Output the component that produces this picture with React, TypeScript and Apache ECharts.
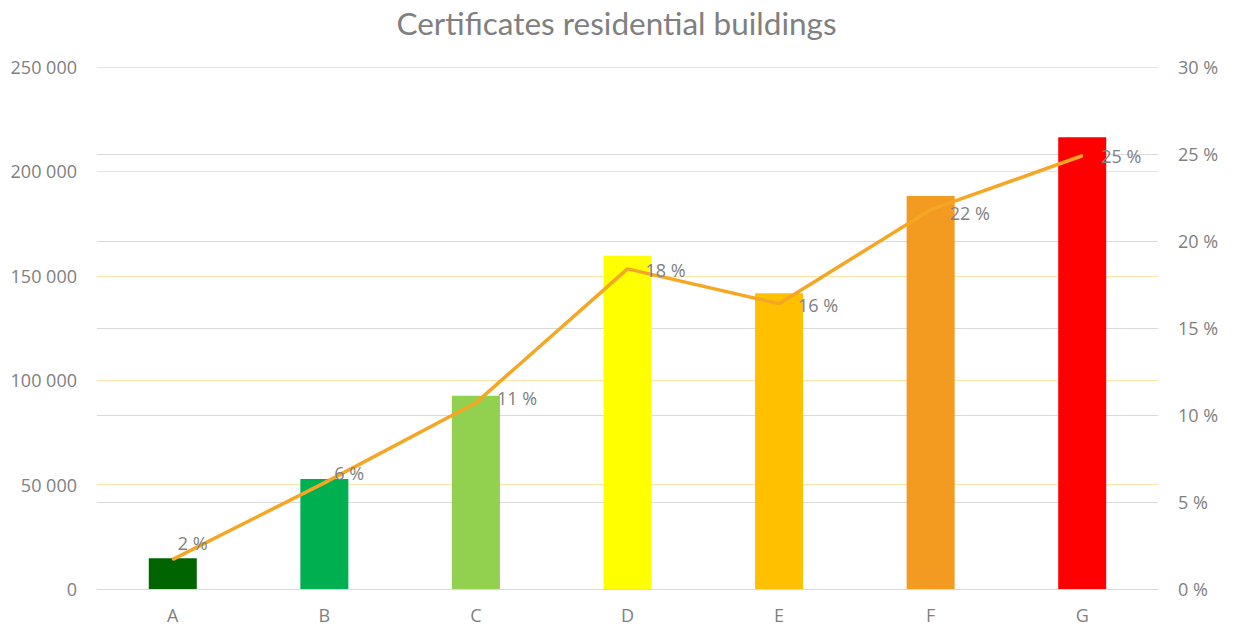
import React, { useEffect, useRef } from "react";
import * as echarts from "echarts";

const categories = ["A", "B", "C", "D", "E", "F", "G"];
const certificates = [14700, 52700, 92600, 159600, 141600, 188200, 216300];
const shares = [1.7, 6.1, 10.7, 18.4, 16.4, 21.8, 24.9];
const barColors = ["#006400", "#00b050", "#92d050", "#ffff00", "#ffc000", "#f39a20", "#ff0000"];
const titleText = "Certificates residential buildings";
// label placement tweaks (style only): [dx, dy] relative to the point
const labelOffsets = [[4, -16], [9, -10], [20, -5], [17, 1], [18, 1], [18, 3], [18, 0]];

const FONT = "'Open Sans', 'Noto Sans', sans-serif";
const GRAY = "#808080";

function fmtThousands(v: number): string {
  return String(Math.round(v)).replace(/\B(?=(\d{3})+(?!\d))/g, " ");
}

export default function App() {
  const ref = useRef<HTMLDivElement>(null);
  useEffect(() => {
    if (!ref.current) return;
    const chart = echarts.init(ref.current, undefined, { renderer: "svg" });
    chart.setOption({
      animation: false,
      backgroundColor: "#ffffff",
      title: {
        text: titleText,
        left: "center",
        top: 2,
        textStyle: { fontFamily: "Lato, " + FONT, fontSize: 31.5, fontWeight: "normal", color: GRAY },
      },
      grid: { left: 97, right: 75, top: 67, bottom: 37, containLabel: false },
      xAxis: {
        type: "category",
        data: categories,
        axisTick: { show: false },
        axisLine: { show: true, lineStyle: { color: "#d9d9d9", width: 1 } },
        axisLabel: { color: GRAY, fontFamily: FONT, fontSize: 18, lineHeight: 18, margin: 17 },
        z: 5,
      },
      yAxis: [
        {
          type: "value",
          min: 0,
          max: 250000,
          interval: 50000,
          axisLine: { show: false },
          axisTick: { show: false },
          axisLabel: { color: GRAY, fontFamily: FONT, fontSize: 18, margin: 20, formatter: (v: number) => fmtThousands(v) },
          splitLine: { show: true, showMinLine: false, lineStyle: { color: "#fce3a8", width: 1 } },
        },
        {
          type: "value",
          min: 0,
          max: 30,
          interval: 5,
          axisLine: { show: false },
          axisTick: { show: false },
          axisLabel: { color: GRAY, fontFamily: FONT, fontSize: 18, margin: 20, formatter: (v: number) => v + " %" },
          splitLine: { show: true, showMaxLine: false, lineStyle: { color: "#d9d9d9", width: 1 } },
        },
      ],
      series: [
        {
          type: "bar",
          yAxisIndex: 0,
          barWidth: 48,
          data: certificates.map((v, i) => ({ value: v, itemStyle: { color: barColors[i] } })),
          z: 2,
        },
        {
          type: "line",
          yAxisIndex: 1,
          data: shares.map((v, i) => ({ value: v, label: { offset: labelOffsets[i] } })),
          symbol: "circle",
          symbolSize: 2,
          showSymbol: true,
          itemStyle: { color: "#f5a623" },
          lineStyle: { color: "#f5a623", width: 3.5 },
          label: {
            show: true,
            position: "right",
            distance: 0,
            color: GRAY,
            fontFamily: FONT,
            fontSize: 18,
            formatter: (p: any) => Math.round(p.value) + " %",
          },
          z: 3,
        },
      ],
    });
    return () => chart.dispose();
  }, []);
  return <div ref={ref} style={{ position: "fixed", left: 0, top: 0, width: 1233, height: 626 }} />;
}
